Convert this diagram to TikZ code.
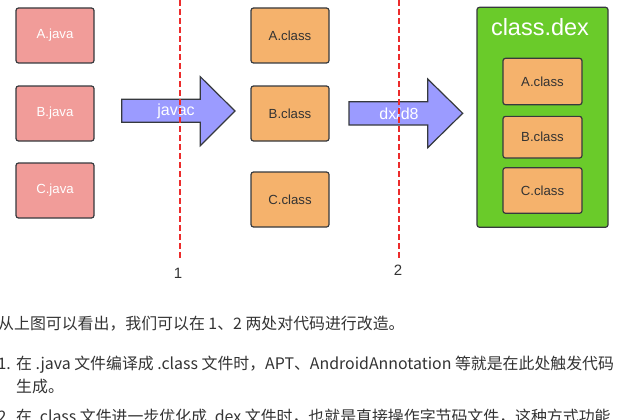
\documentclass[tikz,border=0pt]{standalone}
\usepackage{fontspec}
\setmainfont{Liberation Sans}
\newfontfamily\cjk{Noto Sans CJK SC}
\definecolor{pinkbox}{RGB}{241,156,153}
\definecolor{orangebox}{RGB}{245,178,108}
\definecolor{greenbox}{RGB}{106,203,42}
\definecolor{bluearrow}{RGB}{155,155,255}
\definecolor{edge}{RGB}{54,57,61}
\definecolor{reddash}{RGB}{236,44,44}
\definecolor{txt}{RGB}{51,51,51}
\begin{document}
\begin{tikzpicture}[x=1pt,y=-1pt,
  box/.style={draw=edge,line width=1.2pt,rounded corners=2.5pt,inner sep=0pt,font=\fontsize{13.2}{15}\selectfont},
  javabox/.style={box,fill=pinkbox,text=white,minimum width=78pt,minimum height=55pt},
  classbox/.style={box,fill=orangebox,text=txt,minimum width=78pt,minimum height=55pt},
  innerbox/.style={box,fill=orangebox,text=txt,minimum width=79pt},
  dexbox/.style={draw=edge,line width=1.2pt,rounded corners=2.5pt,fill=greenbox,minimum width=131pt,minimum height=220pt,inner sep=0pt},
  blk/.style={draw=edge,line width=1.2pt,fill=bluearrow,line join=miter},
  arrowtext/.style={text=white,font=\fontsize{16}{18}\selectfont,inner sep=0pt},
  divider/.style={draw=reddash,line width=1.7pt,dash pattern=on 6pt off 3pt},
  marklabel/.style={text=txt,font=\fontsize{15}{17}\selectfont,inner sep=0pt},
  bodytext/.style={text=txt,font=\cjk\fontsize{15.9}{18}\selectfont,inner sep=0pt,anchor=base west}
]
\useasboundingbox (0,0) rectangle (629,420);
\clip (0,0) rectangle (629,420);

% source files
\node[javabox] (ajava) at (55,35.5) {A.java};
\node[javabox] (bjava) at (55,113.5) {B.java};
\node[javabox] (cjava) at (55,190.5) {C.java};

% class files
\node[classbox] (aclass) at (290,35.5) {A.class};
\node[classbox] (bclass) at (290,113.5) {B.class};
\node[classbox] (cclass) at (290,199.5) {C.class};

% dex container
\node[dexbox] (dex) at (542.5,117.3) {};
\node[text=white,font=\fontsize{23.5}{26}\selectfont,inner sep=0pt] (dextitle) at (540,27) {class.dex};
\node[innerbox,minimum height=46.4pt] (dexa) at (542.5,81.5) {A.class};
\node[innerbox,minimum height=41.7pt] (dexb) at (542.5,137.2) {B.class};
\node[innerbox,minimum height=45.6pt] (dexc) at (542.5,190.5) {C.class};

% block arrows
\draw[blk] (121.7,99.3) -- (200.3,99.3) -- (200.3,76.7) -- (235,111) -- (200.3,145.7) -- (200.3,122.3) -- (121.7,122.3) -- cycle;
\node[arrowtext] (javac) at (176,111.5) {javac};
\draw[blk] (349,101.7) -- (427.7,101.7) -- (427.7,79) -- (462.7,113.3) -- (427.7,147.7) -- (427.7,125) -- (349,125) -- cycle;
\node[arrowtext] (dx) at (399,113.5) {dx/d8};

% divider lines
\coordinate (l1top) at (180,0);
\coordinate (l1bot) at (180,258);
\coordinate (l2top) at (399,0);
\coordinate (l2bot) at (399,258);
\draw[divider] (l1top) -- (l1bot);
\draw[divider] (l2top) -- (l2bot);
\node[marklabel] (m1) at (178,273) {1};
\node[marklabel] (m2) at (398,270) {2};

% body text
\node[bodytext] (p1) at (-2,329.5) {从上图可以看出，我们可以在 1、2 两处对代码进行改造。};
\node[bodytext,anchor=base east] (n1) at (11,369) {1.};
\node[bodytext] (t1) at (16,369) {在 .java 文件编译成 .class 文件时，APT、AndroidAnnotation 等就是在此处触发代码};
\node[bodytext] (t1b) at (16,392) {生成。};
\node[bodytext,anchor=base east] (n2) at (11,422) {2.};
\node[bodytext] (t2) at (16,422) {在 .class 文件进一步优化成 .dex 文件时，也就是直接操作字节码文件，这种方式功能};
\end{tikzpicture}
\end{document}
